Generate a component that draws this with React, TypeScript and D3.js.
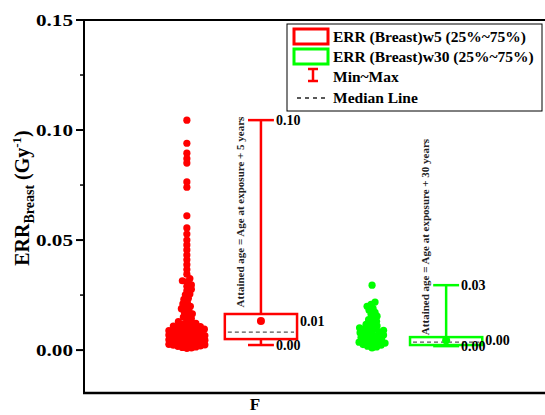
import React from "react";
import * as d3 from "d3";

// group order: w5 (red), w30 (green)
const groups = ["w5", "w30"];
const groupColors = ["#ff0000", "#00ff00"];
const legendLabels = ["ERR (Breast)w5 (25%~75%)", "ERR (Breast)w30 (25%~75%)"];
const annotations = [
  "Attained age = Age at exposure + 5 years",
  "Attained age = Age at exposure + 30 years",
];

const boxMin = [0.0023, 0.0018];
const boxQ1 = [0.005, 0.0023];
const boxMedian = [0.0082, 0.0036];
const boxQ3 = [0.0164, 0.0059];
const boxMax = [0.1045, 0.0295];
const boxMean = [0.0132, 0.0045];

const pointsW5 = [
  0.1045, 0.094, 0.0895, 0.087, 0.085, 0.0764, 0.074, 0.061, 0.0555, 0.0527,
  0.05, 0.0478, 0.0455, 0.0432, 0.041, 0.0388, 0.0366, 0.0345, 0.0325,
  0.0315, 0.031, 0.0296, 0.029, 0.0276, 0.027, 0.0255, 0.0251, 0.0236, 0.023,
  0.0216, 0.021, 0.0199, 0.0195,
  0.0188, 0.018, 0.0172, 0.0165, 0.0158, 0.015, 0.0143, 0.0136, 0.0129,
  0.0122, 0.0118, 0.0116, 0.0113, 0.0109, 0.0107, 0.0104, 0.0101,
  0.0098, 0.0095, 0.0093, 0.0091, 0.0088, 0.0085, 0.0083, 0.0081,
  0.0078, 0.0076, 0.0073, 0.0071, 0.0068, 0.0066, 0.0064, 0.0061,
  0.0059, 0.0057, 0.0054, 0.0052, 0.005, 0.0047, 0.0045, 0.0043,
  0.004, 0.0038, 0.0036, 0.0033, 0.0031, 0.0029, 0.0026, 0.0024, 0.0022,
  0.0019, 0.0017, 0.0014, 0.0012, 0.001, 0.0008,
];

const pointsW30 = [
  0.0295, 0.0218, 0.0208, 0.0199, 0.019, 0.0181, 0.0172, 0.0163, 0.0154, 0.0145,
  0.0138, 0.0131, 0.0124, 0.0117, 0.011,
  0.0105, 0.0101, 0.0097, 0.0094, 0.009, 0.0086, 0.0083, 0.0079, 0.0076,
  0.0072, 0.0068, 0.0065, 0.0061, 0.0058, 0.0054, 0.005, 0.0047, 0.0043,
  0.004, 0.0036, 0.0032, 0.0029, 0.0025, 0.0022, 0.0018, 0.0014, 0.001,
];

const yTicks = [0, 0.05, 0.1, 0.15];
const yMinor = [0.025, 0.075, 0.125];

const W = 545;
const H = 415;
const SERIF = "'Liberation Serif', 'Times New Roman', serif";
const m = { left: 84, top: 20, bottom: 393 };

// simple beeswarm: place each point as close to the centre as it can go
function swarm(values: number[], y: (v: number) => number, minDist: number) {
  const placed: { x: number; y: number; v: number }[] = [];
  const sorted = values.slice().sort((a, b) => a - b);
  sorted.forEach((v, i) => {
    const py = y(v);
    let dx = 0;
    for (let step = 0; step < 400; step++) {
      const mag = Math.ceil(step / 2) * 0.5;
      const sign = (step + i) % 2 === 0 ? 1 : -1;
      const cand = mag * sign;
      const ok = placed.every(p => Math.hypot(p.x - cand, p.y - py) >= minDist);
      if (ok) { dx = cand; break; }
    }
    placed.push({ x: dx, y: py, v });
  });
  return placed;
}

export default function App() {
  const y = d3.scaleLinear().domain([-0.0195, 0.15]).range([m.bottom, m.top]);
  const x = d3.scaleLinear().domain([0.25, 2.75]).range([85, 548]);
  const pos = (i: number) => x(i + 1);
  const unit = x(1) - x(0);
  const boxW = 0.39 * unit;
  const capW = 0.14 * unit;

  const swarms = [pointsW5, pointsW30].map(vals => swarm(vals, y, 4.4));

  return (
    <svg width={W} height={H} style={{ position: "absolute", left: 0, top: 0, background: "#fff" }}
      fontFamily={SERIF} fontWeight="bold">
      {/* frame */}
      <line x1={m.left} x2={W} y1={m.top} y2={m.top} stroke="#000" strokeWidth={2} />
      <line x1={m.left} x2={m.left} y1={m.top - 1} y2={m.bottom + 1} stroke="#000" strokeWidth={2} />
      <line x1={m.left - 1} x2={W} y1={m.bottom} y2={m.bottom} stroke="#000" strokeWidth={2.5} />

      {/* y axis ticks */}
      {yTicks.map(t => (
        <g key={t}>
          <line x1={m.left - 8} x2={m.left} y1={y(t)} y2={y(t)} stroke="#000" strokeWidth={2} />
          <text x={m.left - 11} y={y(t)} dy="0.34em" textAnchor="end" fontSize={17}
            textLength={37} lengthAdjust="spacingAndGlyphs">{t.toFixed(2)}</text>
        </g>
      ))}
      {yMinor.map(t => (
        <line key={t} x1={m.left - 4} x2={m.left} y1={y(t)} y2={y(t)} stroke="#000" strokeWidth={1.5} />
      ))}

      {/* y label */}
      <text transform={`translate(29,${198}) rotate(-90)`} textAnchor="middle" fontSize={20}>
        ERR<tspan fontSize={14} dy={5}>Breast</tspan>
        <tspan dy={-5}> (Gy</tspan>
        <tspan fontSize={13} dy={-8}>-1</tspan>
        <tspan dy={8}>)</tspan>
      </text>

      <text x={255} y={410} textAnchor="middle" fontSize={17}>F</text>

      {groups.map((g, i) => {
        const c = groupColors[i];
        const sx = pos(i) - 0.2 * unit;
        const bx = pos(i) + 0.2 * unit;
        return (
          <g key={g}>
            {swarms[i].map((p, j) => (
              <circle key={j} cx={sx + p.x} cy={p.y} r={3.6} fill={c} />
            ))}
            {/* whiskers */}
            <line x1={bx} x2={bx} y1={y(boxMax[i])} y2={y(boxQ3[i])} stroke={c} strokeWidth={2.5} />
            <line x1={bx} x2={bx} y1={y(boxQ1[i])} y2={y(boxMin[i])} stroke={c} strokeWidth={2.5} />
            <line x1={bx - capW / 2} x2={bx + capW / 2} y1={y(boxMax[i])} y2={y(boxMax[i])} stroke={c} strokeWidth={2.5} />
            <line x1={bx - capW / 2} x2={bx + capW / 2} y1={y(boxMin[i])} y2={y(boxMin[i])} stroke={c} strokeWidth={2.5} />
            {/* box */}
            <rect x={bx - boxW / 2} y={y(boxQ3[i])} width={boxW} height={y(boxQ1[i]) - y(boxQ3[i])}
              fill="none" stroke={c} strokeWidth={2.5} />
            <line x1={bx - boxW / 2 + 3} x2={bx + boxW / 2 - 3} y1={y(boxMedian[i])} y2={y(boxMedian[i])}
              stroke="#555" strokeWidth={1.3} strokeDasharray="4,3" />
            <circle cx={bx} cy={y(boxMean[i])} r={4} fill={c} />
            {/* value labels */}
            <text x={bx + capW / 2 + 2} y={y(boxMax[i])} dy="0.33em" fontSize={14}>{boxMax[i].toFixed(2)}</text>
            <text x={bx + boxW / 2 + 3} y={y(boxMean[i])} dy="0.33em" fontSize={14}>{boxMean[i].toFixed(2)}</text>
            <text x={bx + capW / 2 + 2} y={y(boxMin[i])} dy="0.33em" fontSize={14}>{boxMin[i].toFixed(2)}</text>
            {/* annotation */}
            <text transform={`translate(${bx - boxW / 2 + 19},${i === 0 ? 212 : 237}) rotate(-90)`}
              textAnchor="middle" fontSize={11} fill="#222">{annotations[i]}</text>
          </g>
        );
      })}

      {/* legend */}
      <g>
        <rect x={287} y={24} width={255} height={87} fill="#fff" stroke="#000" strokeWidth={1} />
        {legendLabels.map((l, i) => (
          <g key={l}>
            <rect x={294} y={29 + i * 20} width={34} height={15} fill="#fff" stroke={groupColors[i]} strokeWidth={3} />
            <text x={333} y={42 + i * 20} fontSize={15.5}>{l}</text>
          </g>
        ))}
        <line x1={313} x2={313} y1={69} y2={81} stroke="#ff0000" strokeWidth={2.5} />
        <line x1={308} x2={318} y1={69} y2={69} stroke="#ff0000" strokeWidth={2.5} />
        <line x1={308} x2={318} y1={81} y2={81} stroke="#ff0000" strokeWidth={2.5} />
        <text x={333} y={82} fontSize={15.5}>Min~Max</text>
        <line x1={297} x2={328} y1={98} y2={98} stroke="#222" strokeWidth={1.3} strokeDasharray="4,4" />
        <text x={333} y={103} fontSize={15.5}>Median Line</text>
      </g>
    </svg>
  );
}
